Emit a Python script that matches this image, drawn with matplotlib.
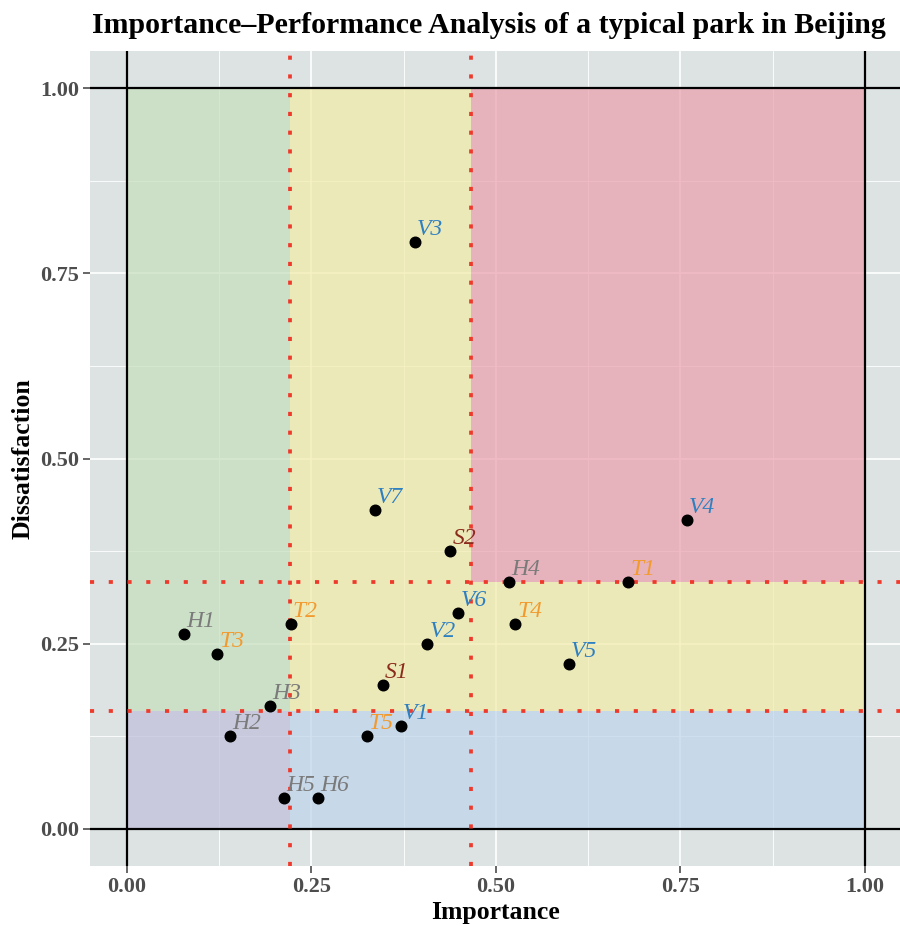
import numpy as np
import matplotlib
matplotlib.use('Agg')
import matplotlib.pyplot as plt
from matplotlib.patches import Rectangle

# attributes: importance (x) vs dissatisfaction (y)
names = ['V3', 'V7', 'V4', 'S2', 'H4', 'T1', 'V6', 'T4', 'T2', 'H1',
         'V2', 'T3', 'V5', 'S1', 'H3', 'V1', 'H2', 'T5', 'H5', 'H6']
importance = [0.390, 0.336, 0.759, 0.438, 0.518, 0.679, 0.449, 0.526, 0.222, 0.077,
              0.407, 0.122, 0.599, 0.347, 0.194, 0.371, 0.140, 0.325, 0.213, 0.259]
dissatisfaction = [0.792, 0.430, 0.417, 0.375, 0.333, 0.333, 0.291, 0.277, 0.277, 0.263,
                   0.250, 0.236, 0.223, 0.194, 0.166, 0.139, 0.125, 0.125, 0.042, 0.042]

# thresholds (red dotted lines)
x_cuts = [0.221, 0.466]
y_cuts = [0.159, 0.333]

ticks = [0.0, 0.25, 0.5, 0.75, 1.0]
tick_labels = ['0.00', '0.25', '0.50', '0.75', '1.00']

group_colors = {'V': '#2f80c0', 'T': '#f29a2e', 'H': '#7a7a7a', 'S': '#8b2b1c'}

plt.rcParams['font.family'] = ['Liberation Serif', 'DejaVu Serif']

fig = plt.figure(figsize=(9, 9.26), dpi=100)
ax = fig.add_axes([90 / 900, 60 / 926, 810 / 900, 815 / 926])
ax.set_xlim(-0.05, 1.0474)
ax.set_ylim(-0.05, 1.05)
ax.set_facecolor('#dde3e3')

# grid
ax.set_xticks(ticks)
ax.set_yticks(ticks)
ax.set_xticks(np.arange(0.125, 1.0, 0.25), minor=True)
ax.set_yticks(np.arange(0.125, 1.0, 0.25), minor=True)
ax.grid(which='major', color='white', lw=1.2, zorder=0)
ax.grid(which='minor', color='white', lw=0.6, zorder=0)
ax.set_axisbelow(True)

# quadrant regions
x0, x1 = x_cuts
y0, y1 = y_cuts
regions = [
    (0, y0, x0, 1 - y0, '#c6dfbd'),          # green
    (x0, y0, x1 - x0, 1 - y0, '#f2ecaa'),    # yellow
    (x1, y0, 1 - x1, y1 - y0, '#f2ecaa'),    # yellow
    (x1, y1, 1 - x1, 1 - y1, '#eaa0ad'),     # red
    (0, 0, x0, y0, '#c0bfdc'),               # purple
    (x0, 0, 1 - x0, y0, '#bfd5ea'),          # blue
]
for rx, ry, rw, rh, c in regions:
    ax.add_patch(Rectangle((rx, ry), rw, rh, facecolor=c, edgecolor='none',
                           alpha=0.72, zorder=1))

# black frame lines at 0 and 1
for v in [0, 1]:
    ax.axhline(v, color='black', lw=1.6, zorder=2)
    ax.axvline(v, color='black', lw=1.6, zorder=2)

# red dotted threshold lines
for v in x_cuts:
    ax.axvline(v, color='#ee3a2c', lw=2.7, ls=(0, (1.1, 3.9)), zorder=3)
for v in y_cuts:
    ax.axhline(v, color='#ee3a2c', lw=2.7, ls=(0, (1.1, 3.9)), zorder=3)

ax.scatter(importance, dissatisfaction, s=58, color='black', zorder=4)
for n, xv, yv in zip(names, importance, dissatisfaction):
    ax.annotate(n, (xv, yv), xytext=(1.5, 5), textcoords='offset points',
                ha='left', va='baseline', fontsize=17, style='italic',
                color=group_colors[n[0]], zorder=5)

for s in ax.spines.values():
    s.set_visible(False)
ax.set_xticklabels(tick_labels)
ax.set_yticklabels(tick_labels)
ax.tick_params(which='major', length=5, width=1.2, color='#4d4d4d',
               labelsize=16, labelcolor='#4d4d4d', pad=3)
ax.tick_params(which='minor', length=0)
for lab in ax.get_xticklabels() + ax.get_yticklabels():
    lab.set_fontweight('bold')

ax.set_xlabel('Importance', fontsize=18.5, fontweight='bold', labelpad=3)
ax.set_ylabel('Dissatisfaction', fontsize=18.5, fontweight='bold', labelpad=4)

fig.text(92 / 900, 1 - 33 / 926,
         'Importance\u2013Performance Analysis of a typical park in Beijing',
         fontsize=21.5, fontweight='bold', ha='left', va='baseline')

fig.savefig('out.png', dpi=100)
